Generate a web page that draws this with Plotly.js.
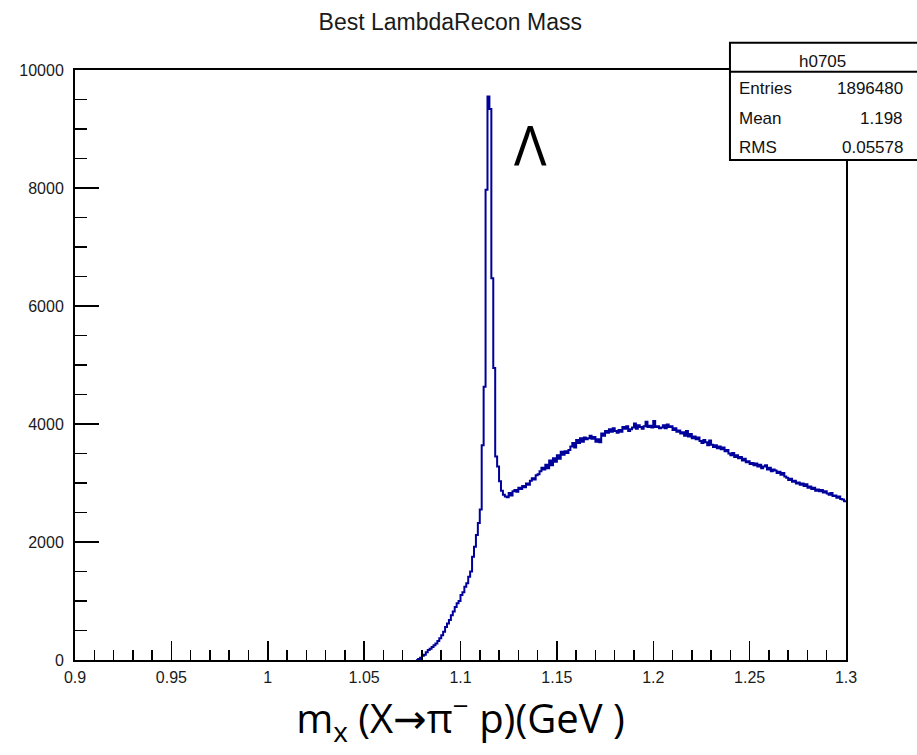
<!DOCTYPE html>
<html>
<head>
<meta charset="utf-8">
<script src="https://cdn.plot.ly/plotly-3.0.1.min.js"></script>
<style>html,body{margin:0;padding:0;background:#fff;}#chart{width:917px;height:755px;}</style>
</head>
<body>
<div id="chart"></div>
<script>
// ---- DATA ----
const histName = "h0705";
const histTitle = "Best LambdaRecon Mass";
const binLow = 1.077;      // low edge of first listed bin (GeV)
const binWidth = 0.001;    // GeV
const counts = [
  0,
  15, 40, 70, 90, 130, 170, 190, 220, 250, 280,
  320, 370, 420, 480, 560, 620, 680, 760, 820, 900,
  960, 1000, 1100, 1150, 1240, 1300, 1410, 1500, 1750, 1920,
  2120, 2320, 2550, 3640, 4630, 7970, 9550, 9340, 6470, 4950,
  3450, 3280, 3030, 2870, 2800, 2770, 2760,
  2830, 2790, 2860, 2880, 2850, 2920, 2900, 2950, 2930, 2990,
  2970, 3040, 3080, 3060, 3130, 3150, 3200, 3260, 3230, 3310,
  3250, 3380, 3300, 3420, 3360, 3470, 3410, 3530, 3480, 3540,
  3510, 3560, 3620, 3680, 3600, 3730, 3680, 3760, 3700, 3770,
  3740, 3760, 3800, 3750, 3780, 3700, 3740, 3690, 3840, 3800,
  3880, 3850, 3910, 3870, 3930, 3880, 3850, 3900, 3870, 3950,
  3920, 3960, 3880, 3910, 3940, 4010, 3920, 3980, 3950, 3920,
  3960, 4040, 3950, 3970, 3940, 4050, 3950, 3960, 3930, 3940,
  3980, 3930, 3990, 3950, 3960, 3900, 3930, 3870, 3890, 3840,
  3860, 3800, 3880, 3790, 3830, 3760, 3790, 3740, 3770, 3710,
  3680, 3730, 3690, 3640, 3720, 3650, 3610, 3640, 3590, 3620,
  3570, 3600, 3540, 3560, 3500, 3470, 3510, 3440, 3470, 3420,
  3440, 3380, 3410, 3350, 3370, 3320, 3340, 3300, 3330, 3280,
  3310, 3250, 3280, 3300, 3230, 3260, 3200, 3230, 3210, 3170,
  3190, 3140, 3170, 3110, 3090, 3050, 3070, 3020, 3040, 2990,
  3010, 2970, 2990, 2950, 2980, 2920, 2940, 2900, 2920, 2870,
  2890, 2860, 2880, 2840, 2860, 2820, 2800, 2830, 2780, 2790,
  2750, 2770, 2730, 2720, 2690
];
const xTickVals = [0.9, 0.95, 1, 1.05, 1.1, 1.15, 1.2, 1.25, 1.3];
const xTickLabels = ["0.9", "0.95", "1", "1.05", "1.1", "1.15", "1.2", "1.25", "1.3"];
const yTickVals = [0, 2000, 4000, 6000, 8000, 10000];
const yTickLabels = ["0", "2000", "4000", "6000", "8000", "10000"];
const statLabels = ["Entries", "Mean", "RMS"];
const statValues = ["1896480", "1.198", "0.05578"];
const peakLabel = "Λ";
const xTitle = "m<sub>x</sub> (X<span style=\"font-family:DejaVu Sans\">→</span>π<sup>−</sup> p)(GeV )";

// ---- BUILD ----
const xs = counts.map((_, i) => +(binLow + i * binWidth).toFixed(4));
const ys = counts.slice();
xs.push(+(binLow + counts.length * binWidth).toFixed(4));
ys.push(counts[counts.length - 1]);

const trace = {
  type: "scatter", mode: "lines", x: xs, y: ys,
  line: {shape: "hv", color: "rgb(0,0,155)", width: 2},
  hoverinfo: "x+y", showlegend: false
};

const tickFont = {family: "Liberation Sans, Arial, sans-serif", size: 16, color: "#1a1a1a"};
const statFont = {family: "Liberation Sans, Arial, sans-serif", size: 17, color: "#111"};

// stats box geometry (paper coords)
const bx0 = 0.8495, bx1 = 1.095, byTop = 1.046, byBot = 0.8475, byDiv = 0.997;
const rowY = [0.968, 0.917, 0.869];

const annotations = [
  {text: histName, xref: "paper", yref: "paper", x: 0.969, y: 1.015, xanchor: "center", yanchor: "middle", showarrow: false, font: statFont},
  {text: peakLabel, xref: "paper", yref: "paper", x: 0.591, y: 0.874, xanchor: "center", yanchor: "middle", showarrow: false,
   font: {family: "Open Sans, Noto Sans, sans-serif", size: 54, color: "#000"}}
];
statLabels.forEach((s, i) => {
  annotations.push({text: s, xref: "paper", yref: "paper", x: 0.858, y: rowY[i], xanchor: "left", yanchor: "middle", showarrow: false, font: statFont});
  annotations.push({text: statValues[i], xref: "paper", yref: "paper", x: 1.077, y: rowY[i], xanchor: "right", yanchor: "middle", showarrow: false, font: statFont});
});

const layout = {
  width: 917, height: 755,
  margin: {l: 75, r: 71, t: 70, b: 95, pad: 0},
  paper_bgcolor: "#fff", plot_bgcolor: "#fff",
  title: {text: histTitle, xref: "container", yref: "container", x: 0.491, y: 0.971, xanchor: "center", yanchor: "middle",
          font: {family: "Liberation Sans, Arial, sans-serif", size: 23, color: "#1a1a1a"}},
  xaxis: {
    range: [0.9, 1.3], tickvals: xTickVals, ticktext: xTickLabels,
    ticks: "inside", ticklen: 19, tickwidth: 1.5, tickcolor: "#000",
    minor: {dtick: 0.01, tick0: 0.9, ticks: "inside", ticklen: 10, tickwidth: 1.5, tickcolor: "#000", showgrid: false},
    showline: true, linecolor: "#000", linewidth: 2, mirror: true,
    showgrid: false, zeroline: false, tickfont: tickFont, ticklabelstandoff: 2,
    title: {text: xTitle, standoff: 20, font: {family: "Open Sans, Noto Sans, sans-serif", size: 40, color: "#000"}}
  },
  yaxis: {
    range: [0, 10000], tickvals: yTickVals, ticktext: yTickLabels,
    ticks: "inside", ticklen: 24, tickwidth: 1.5, tickcolor: "#000",
    minor: {dtick: 500, tick0: 0, ticks: "inside", ticklen: 12, tickwidth: 1.5, tickcolor: "#000", showgrid: false},
    showline: true, linecolor: "#000", linewidth: 2, mirror: true,
    showgrid: false, zeroline: false, tickfont: tickFont, ticklabelstandoff: 6
  },
  shapes: [
    {type: "rect", xref: "paper", yref: "paper", x0: bx0, x1: bx1, y0: byBot, y1: byTop, fillcolor: "#fff", line: {color: "#000", width: 2}, layer: "above"},
    {type: "line", xref: "paper", yref: "paper", x0: bx0, x1: bx1, y0: byDiv, y1: byDiv, line: {color: "#000", width: 2}, layer: "above"}
  ],
  annotations: annotations
};

Plotly.newPlot("chart", [trace], layout, {displayModeBar: false, staticPlot: true});
</script>
</body>
</html>
